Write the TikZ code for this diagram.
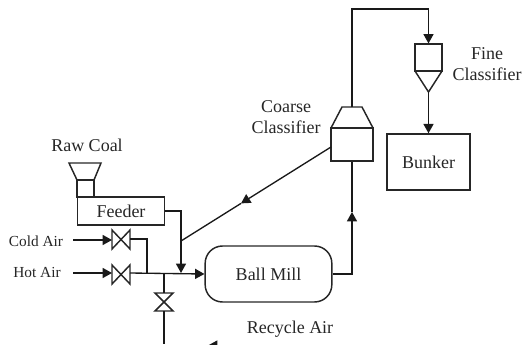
\documentclass[tikz,border=0pt]{standalone}
\usepackage{fontspec}
\setmainfont{Liberation Serif}
\usepackage{tikz}
\usetikzlibrary{arrows.meta}
\tikzset{
	pipe/.style={line width=1pt,black!90},
	flow/.style={pipe,-{Triangle[length=7pt,width=7.5pt]}},
	unit/.style={draw=black!85,line width=1.1pt,inner sep=0pt,text=black!85},
	valve/.style={draw=black!85,line width=1.1pt},
	lbl/.style={font=\fontsize{13.5}{16}\selectfont,align=center,text=black!85},
	lblsmall/.style={font=\fontsize{11.5}{13}\selectfont,text=black!85},
	unitlbl/.style={font=\fontsize{13.5}{16}\selectfont}
}
\begin{document}
\begin{tikzpicture}[x=0.75pt,y=-0.75pt]
	\useasboundingbox (0,0) rectangle (522,344);
	\clip (0,0) rectangle (522,344);
	% equipment
	\node[unit,unitlbl,minimum width=65pt,minimum height=21pt] (feeder) at (121,211) {Feeder};
	\node[unit,unitlbl,minimum width=95pt,minimum height=42pt,rounded corners=13pt] (mill) at (268.5,274) {Ball Mill};
	\node[unit,minimum width=31.5pt,minimum height=24.75pt] (coarse) at (352,144.5) {};
	\node[unit,minimum width=20pt,minimum height=20pt] (fine) at (428.5,57.5) {};
	\node[unit,unitlbl,minimum width=62pt,minimum height=42pt] (bunker) at (428.5,162) {Bunker};
	\node[unit,minimum width=12.75pt,minimum height=12.75pt] (chute) at (85.5,188.5) {};
	\draw[valve] (77,180) -- (69,163) -- (101,163) -- (94,180);
	\draw[valve] (331,128) -- (342,107) -- (362,107) -- (373,128);
	\draw[valve] (415,71) -- (428.5,92) -- (442,71);
	% valves
	\draw[valve] (112,230) -- (130,249) -- (130,230) -- (112,249) -- cycle;
	\draw[valve] (112,265) -- (130,284) -- (130,265) -- (112,284) -- cycle;
	\draw[valve] (155,293) -- (173,311) -- (155,311) -- (173,293) -- cycle;
	% junctions
	\coordinate (coldin) at (73,240);
	\coordinate (coldv) at (112,240);
	\coordinate (coldout) at (130,239);
	\coordinate (coldjoin) at (147,273);
	\coordinate (hotin) at (73,273);
	\coordinate (hotv) at (112,273);
	\coordinate (hotout) at (130,273);
	\coordinate (feedjoin) at (181,273);
	\coordinate (diagend) at (181,241);
	\coordinate (coarsein) at (331,147);
	\coordinate (recyclejoin) at (164,273);
	\coordinate (vtop) at (164,293);
	\coordinate (vbot) at (164,311);
	\coordinate (recycleend) at (164,344);
	\coordinate (recyclefrom) at (262,345.5);
	\coordinate (recycletip) at (208,345.5);
	\coordinate (coarsetop) at (352,107);
	\coordinate (risetip) at (352,212);
	\coordinate (topleft) at (352,9);
	\coordinate (topright) at (428.5,9);
	\coordinate (coneend) at (428.5,92);
	\path (coarsein) -- (diagend) coordinate[pos=0.6] (diagmid);
	% pipes
	\draw[flow] (coldin) -- (coldv);
	\draw[flow] (hotin) -- (hotv);
	\draw[pipe] (coldout) -| (coldjoin);
	\draw[flow] (hotout) -- (mill.west);
	\draw[flow] (feeder.east) -| (feedjoin);
	\draw[pipe] (recyclejoin) -- (vtop);
	\draw[pipe] (vbot) -- (recycleend);
	\draw[flow] (recyclefrom) -- (recycletip);
	\draw[flow] (coarsein) -- (diagmid);
	\draw[pipe] (diagmid) -- (diagend);
	\draw[flow] (mill.east) -| (risetip);
	\draw[pipe] (risetip) -- (coarse.south);
	\draw[pipe] (coarsetop) -- (topleft) -- (topright);
	\draw[flow] (topright) -- (fine.north);
	\draw[flow] (coneend) -- (bunker.north);
	% labels
	\node[lbl] (rawcoal) at (87,145) {Raw Coal};
	\node[lblsmall] (coldair) at (36,241) {Cold Air};
	\node[lblsmall] (hotair) at (37,272) {Hot Air};
	\node[lbl] (recycle) at (290,329) {Recycle Air};
	\node[lbl] (coarselbl) at (286,117) {Coarse\\Classifier};
	\node[lbl] (finelbl) at (487,64) {Fine\\Classifier};
\end{tikzpicture}
\end{document}
